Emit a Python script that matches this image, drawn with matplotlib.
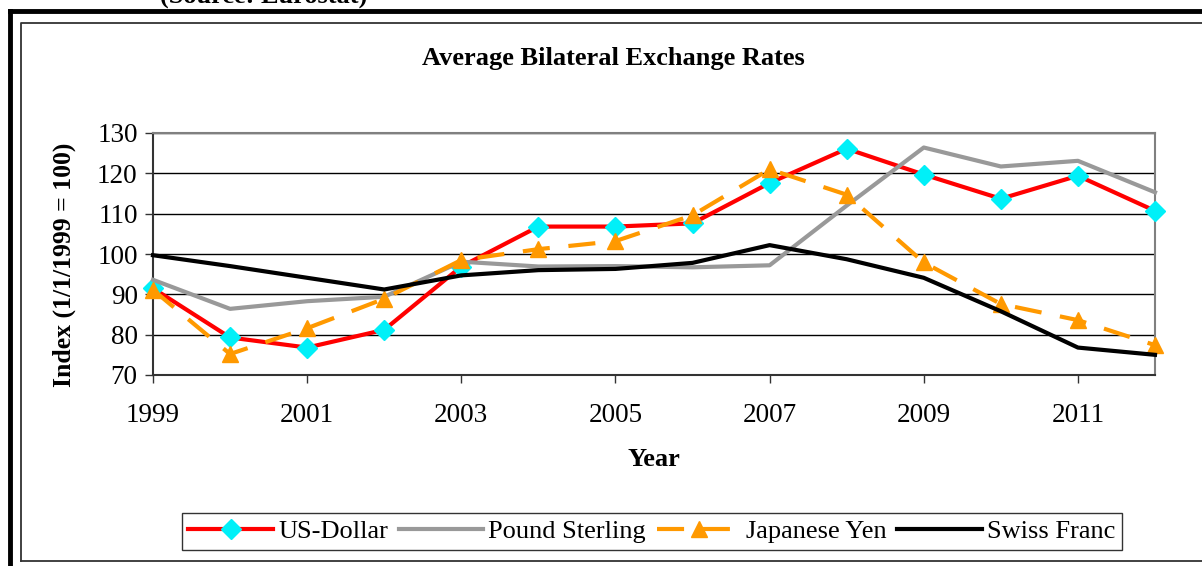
import matplotlib
matplotlib.use("Agg")
import matplotlib.pyplot as plt
from matplotlib.lines import Line2D

years = list(range(1999, 2013))
usd = [91.5, 79.3, 76.8, 81.2, 96.9, 106.8, 106.8, 107.6, 117.6, 126.1, 119.7, 113.7, 119.4, 110.7]
gbp = [93.6, 86.4, 88.3, 89.4, 98.1, 96.9, 97.0, 96.7, 97.2, 112.0, 126.4, 121.7, 123.1, 115.3]
jpy = [91.1, 75.2, 81.6, 88.9, 98.5, 101.2, 103.2, 109.6, 121.0, 114.7, 97.9, 87.6, 83.6, 77.4]
chf = [99.7, 97.0, 94.1, 91.2, 94.7, 96.0, 96.3, 97.8, 102.2, 98.7, 94.1, 85.8, 76.8, 75.0]
series_names = ["US-Dollar", "Pound Sterling", "Japanese Yen", "Swiss Franc"]
xticks = [1999, 2001, 2003, 2005, 2007, 2009, 2011]
yticks = [70, 80, 90, 100, 110, 120, 130]

plt.rcParams['font.family'] = ['Liberation Serif', 'DejaVu Serif']

W, H = 1202, 566
fig = plt.figure(figsize=(W / 100, H / 100), dpi=100)
ax = fig.add_axes([153 / W, 1 - 375 / H, (1155 - 153) / W, (375 - 133) / H])

lw = 3.0
ax.plot(years, usd, color='#FF0000', lw=lw, marker='D', markersize=10,
        markerfacecolor='#00F0F8', markeredgecolor='#00F0F8', clip_on=False,
        label=series_names[0], zorder=3)
ax.plot(years, gbp, color='#999999', lw=lw, clip_on=False,
        label=series_names[1], zorder=3)
ax.plot(years, jpy, color='#FF9900', lw=lw, dashes=(6.5, 4.5), marker='^',
        markersize=11, markerfacecolor='#FF9900', markeredgecolor='#FF9900',
        clip_on=False, label=series_names[2], zorder=3)
ax.plot(years, chf, color='#000000', lw=lw, clip_on=False,
        label=series_names[3], zorder=3)

ax.set_xlim(1999, 2012)
ax.set_ylim(70, 130)
ax.set_xticks(xticks)
ax.set_yticks(yticks)
ax.tick_params(axis='both', labelsize=19.5, direction='out', length=6,
               width=1, color='#333333')
ax.tick_params(axis='x', pad=14)
ax.tick_params(axis='y', pad=5)
ax.yaxis.grid(True, color='#000000', lw=1.0)
ax.set_axisbelow(True)
for s in ['top', 'right']:
    ax.spines[s].set_color('#808080')
    ax.spines[s].set_linewidth(1.5)
for s in ['left', 'bottom']:
    ax.spines[s].set_color('#333333')
    ax.spines[s].set_linewidth(1.5)

fig.text(613 / W, 1 - 58 / H, "Average Bilateral Exchange Rates",
         ha='center', va='center', fontsize=19, fontweight='bold')
fig.text(654 / W, 1 - 459 / H, "Year", ha='center', va='center',
         fontsize=19, fontweight='bold')
fig.text(64 / W, 1 - 265 / H, "Index (1/1/1999 = 100)", ha='center',
         va='center', rotation=90, fontsize=18.5, fontweight='bold')
fig.text(160 / W, 1 - 4 / H, "(Source: Eurostat)", ha='left',
         va='baseline', fontsize=19, fontweight='bold')

# frames
fig.add_artist(Line2D([10 / W, 10 / W], [0, 1 - 11 / H], color='black',
                      lw=3.5, transform=fig.transFigure))
fig.add_artist(Line2D([10 / W, 1], [1 - 11 / H, 1 - 11 / H], color='black',
                      lw=3.5, transform=fig.transFigure))
fig.add_artist(Line2D([21 / W, 21 / W, 1], [1 - 561 / H, 1 - 23 / H, 1 - 23 / H],
                      color='#333333', lw=1.3, transform=fig.transFigure))
fig.add_artist(Line2D([21 / W, 1], [1 - 561 / H, 1 - 561 / H],
                      color='#333333', lw=1.3, transform=fig.transFigure))

leg = fig.legend(loc='center', bbox_to_anchor=(652 / W, 1 - 531.5 / H),
                 ncol=4, fontsize=19, handlelength=3.2, handletextpad=0.2,
                 columnspacing=0.4, frameon=True, fancybox=False,
                 borderpad=0.25, borderaxespad=0, numpoints=1)
leg.get_frame().set_edgecolor('black')
leg.get_frame().set_linewidth(1.0)

fig.savefig('out.png', dpi=100)
